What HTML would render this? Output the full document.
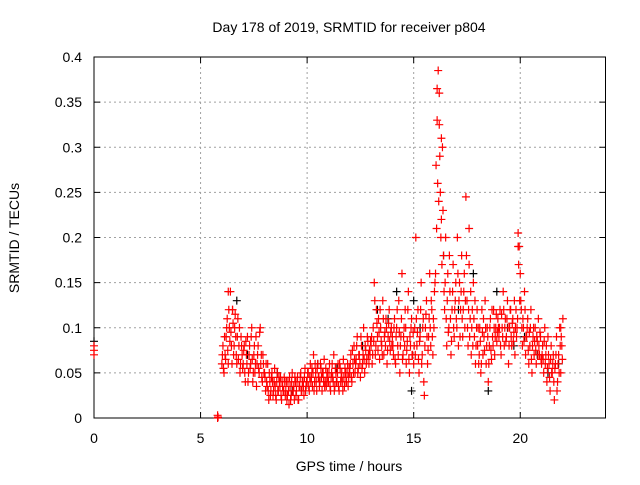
<!DOCTYPE html>
<html><head><meta charset="utf-8"><style>
body{margin:0;background:#fff}
svg text{font-family:"Liberation Sans",sans-serif;font-size:14px;fill:#000}
</style></head><body>
<svg width="640" height="480">
<g id="grid"></g>
<g id="axes"></g>
<g id="marks"></g>
<text x="349" y="32" text-anchor="middle">Day 178 of 2019, SRMTID for receiver p804</text>
<text x="349" y="471" text-anchor="middle">GPS time / hours</text>
<text x="0" y="0" text-anchor="middle" transform="translate(19,238) rotate(-90)">SRMTID / TECUs</text>
</svg>
<script>
const xTicks=[0,5,10,15,20];
const yTicks=[0,0.05,0.1,0.15,0.2,0.25,0.3,0.35,0.4];
const yTickLabels=["0","0.05","0.1","0.15","0.2","0.25","0.3","0.35","0.4"];
const redHours=[6,7,8,9,10,11,12,13,14,15,16,17,18,19,20,21];
const redValues=[
[0.06,0.08,0.05,0.07,0.09,0.11,0.06,0.1,0.14,0.08,0.12,0.07,0.1,0.09,0.06,0.11,0.08,0.05,0.09,0.07],
[0.06,0.08,0.04,0.07,0.09,0.05,0.08,0.06,0.1,0.04,0.07,0.05,0.09,0.06,0.08,0.05,0.1,0.07,0.04,0.06],
[0.05,0.03,0.04,0.06,0.02,0.04,0.03,0.05,0.025,0.04,0.035,0.02,0.05,0.03,0.04,0.045,0.02,0.035,0.03,0.04],
[0.03,0.02,0.04,0.015,0.035,0.025,0.05,0.03,0.02,0.04,0.03,0.045,0.02,0.035,0.05,0.03,0.04,0.025,0.055,0.035],
[0.04,0.05,0.03,0.06,0.045,0.035,0.07,0.04,0.05,0.03,0.06,0.045,0.04,0.055,0.03,0.05,0.065,0.04,0.035,0.05],
[0.04,0.06,0.03,0.05,0.045,0.07,0.035,0.05,0.04,0.06,0.03,0.055,0.045,0.04,0.065,0.035,0.05,0.04,0.06,0.045],
[0.05,0.07,0.04,0.06,0.08,0.05,0.065,0.09,0.055,0.07,0.045,0.08,0.06,0.1,0.05,0.075,0.065,0.085,0.06,0.07],
[0.08,0.06,0.1,0.15,0.07,0.12,0.09,0.11,0.065,0.1,0.08,0.13,0.07,0.095,0.11,0.06,0.09,0.12,0.075,0.1],
[0.09,0.07,0.11,0.06,0.1,0.08,0.13,0.05,0.09,0.16,0.07,0.1,0.12,0.06,0.085,0.14,0.05,0.08,0.11,0.07],
[0.06,0.1,0.2,0.08,0.12,0.05,0.09,0.15,0.07,0.11,0.025,0.1,0.13,0.06,0.09,0.16,0.08,0.12,0.07,0.1],
[0.15,0.28,0.33,0.385,0.36,0.25,0.22,0.3,0.18,0.12,0.2,0.08,0.16,0.1,0.14,0.07,0.12,0.17,0.09,0.13],
[0.11,0.2,0.08,0.15,0.12,0.18,0.09,0.14,0.1,0.245,0.13,0.08,0.17,0.11,0.07,0.12,0.15,0.09,0.06,0.1],
[0.08,0.06,0.1,0.05,0.12,0.07,0.09,0.13,0.06,0.1,0.04,0.08,0.11,0.065,0.09,0.12,0.07,0.1,0.085,0.11],
[0.09,0.12,0.07,0.1,0.14,0.08,0.11,0.09,0.13,0.06,0.1,0.12,0.08,0.11,0.095,0.07,0.12,0.1,0.205,0.19],
[0.16,0.12,0.08,0.1,0.14,0.07,0.09,0.11,0.06,0.08,0.12,0.05,0.09,0.07,0.1,0.06,0.085,0.11,0.07,0.09],
[0.06,0.08,0.05,0.1,0.07,0.04,0.09,0.06,0.03,0.08,0.05,0.07,0.02,0.06,0.09,0.04,0.07,0.1,0.05,0.08]];
const redValues2=[
[0.07,0.055,0.09,0.065,0.1,0.075,0.12,0.085,0.095,0.06,0.105,0.08,0.115,0.07,0.09,0.065,0.1,0.06,0.08,0.055],
[0.075,0.05,0.085,0.06,0.04,0.07,0.055,0.09,0.065,0.05,0.08,0.06,0.035,0.07,0.055,0.095,0.06,0.045,0.07,0.05],
[0.045,0.06,0.035,0.03,0.05,0.025,0.045,0.04,0.03,0.055,0.025,0.04,0.03,0.045,0.035,0.025,0.04,0.03,0.045,0.025],
[0.04,0.025,0.03,0.045,0.02,0.04,0.03,0.035,0.045,0.025,0.04,0.02,0.035,0.045,0.03,0.04,0.035,0.045,0.03,0.04],
[0.05,0.035,0.045,0.04,0.055,0.05,0.03,0.06,0.04,0.055,0.045,0.035,0.06,0.045,0.05,0.04,0.035,0.055,0.045,0.04],
[0.05,0.035,0.045,0.06,0.04,0.03,0.055,0.04,0.05,0.035,0.06,0.04,0.05,0.03,0.045,0.055,0.04,0.05,0.035,0.055],
[0.06,0.045,0.075,0.05,0.065,0.06,0.08,0.05,0.07,0.06,0.09,0.055,0.07,0.065,0.08,0.06,0.09,0.07,0.075,0.085],
[0.09,0.07,0.085,0.13,0.08,0.105,0.075,0.095,0.12,0.085,0.07,0.11,0.09,0.08,0.1,0.075,0.105,0.085,0.095,0.08],
[0.08,0.1,0.065,0.09,0.12,0.07,0.095,0.08,0.11,0.065,0.09,0.08,0.1,0.075,0.12,0.065,0.09,0.1,0.07,0.095],
[0.08,0.07,0.11,0.095,0.065,0.085,0.12,0.06,0.1,0.04,0.08,0.115,0.09,0.075,0.11,0.1,0.13,0.09,0.11,0.14],
[0.16,0.21,0.26,0.24,0.29,0.2,0.17,0.23,0.14,0.15,0.11,0.13,0.095,0.18,0.11,0.085,0.14,0.1,0.12,0.15],
[0.1,0.16,0.13,0.09,0.14,0.11,0.12,0.16,0.13,0.18,0.1,0.12,0.09,0.14,0.1,0.08,0.11,0.13,0.08,0.12],
[0.1,0.07,0.085,0.06,0.095,0.11,0.075,0.1,0.08,0.09,0.06,0.1,0.075,0.12,0.08,0.1,0.09,0.115,0.095,0.1],
[0.1,0.08,0.115,0.09,0.12,0.1,0.085,0.11,0.1,0.08,0.12,0.09,0.105,0.085,0.13,0.1,0.09,0.11,0.17,0.13],
[0.13,0.1,0.11,0.085,0.12,0.09,0.1,0.075,0.095,0.1,0.065,0.08,0.1,0.085,0.075,0.09,0.07,0.08,0.095,0.065],
[0.07,0.065,0.085,0.06,0.08,0.055,0.07,0.045,0.065,0.05,0.06,0.04,0.055,0.07,0.03,0.06,0.05,0.08,0.09,0.065]];
const extraTimes=[0.0,0.0,0.0,5.8,5.8,5.82,6.3,6.5,16.1,16.2,16.3,17.6,19.9,22.0,21.9];
const extraValues=[0.08,0.075,0.07,0.0,0.003,0.001,0.14,0.12,0.365,0.325,0.31,0.21,0.19,0.11,0.1];
const blackTimes=[0.0,6.7,7.2,8.6,9.3,10.5,11.4,12.6,13.3,14.2,14.9,15.3,16.4,17.1,17.8,18.5,18.9,19.4,20.2,20.8,21.3,21.8,15.0,13.8,19.7];
const blackValues=[0.085,0.13,0.07,0.05,0.03,0.06,0.055,0.08,0.12,0.14,0.03,0.1,0.18,0.12,0.16,0.03,0.14,0.1,0.09,0.07,0.05,0.06,0.13,0.11,0.08];

const X=v=>94+v*(511.5/24);
const Y=v=>418-v*(361/0.4);
const ns="http://www.w3.org/2000/svg";
const grid=document.getElementById('grid'),axes=document.getElementById('axes'),marks=document.getElementById('marks');
function mk(tag,attrs,parent){const e=document.createElementNS(ns,tag);for(const k in attrs)e.setAttribute(k,attrs[k]);parent.appendChild(e);return e;}
yTicks.forEach((t,i)=>{
  if(i>0&&i<yTicks.length-1){const g=mk('line',{x1:94,x2:605.5,y1:Y(t),y2:Y(t),stroke:'#a0a0a0','stroke-dasharray':'2,3'},grid);
  
  }
  mk('line',{x1:94,x2:100,y1:Y(t),y2:Y(t),stroke:'#000'},axes);
  mk('line',{x1:599.5,x2:605.5,y1:Y(t),y2:Y(t),stroke:'#000'},axes);
  const tx=mk('text',{x:82,y:Y(t)+5,'text-anchor':'end'},axes);tx.textContent=yTickLabels[i];
  
  
});
xTicks.forEach(t=>{
  if(t>0){const g=mk('line',{x1:X(t),x2:X(t),y1:57,y2:418,stroke:'#a0a0a0','stroke-dasharray':'2,3'},grid);
  
  }
  mk('line',{x1:X(t),x2:X(t),y1:418,y2:412,stroke:'#000'},axes);
  mk('line',{x1:X(t),x2:X(t),y1:57,y2:63,stroke:'#000'},axes);
  const tx=mk('text',{x:X(t),y:443,'text-anchor':'middle'},axes);tx.textContent=String(t);
  
  
});
const fr=mk('rect',{x:94,y:57,width:511.5,height:361,fill:'none',stroke:'#000'},axes);


function plus(x,y,c){const p=mk('path',{d:`M${X(x)-4},${Y(y)}h8M${X(x)},${Y(y)-4}v8`,stroke:c,'stroke-width':1.2,fill:'none'},marks);return p;}
blackTimes.forEach((t,i)=>{const p=plus(t,blackValues[i],'#000');
  
  });
redHours.forEach((h,j)=>{redValues[j].forEach((v,i)=>{const p=plus(h+i/20,v,'#f00');
  
  });});
redHours.forEach((h,j)=>{redValues2[j].forEach((v,i)=>{const p=plus(h+i/20+0.025,v,'#f00');
  
  });});
extraTimes.forEach((t,i)=>{const p=plus(t,extraValues[i],'#f00');
  
  });
</script>
</body></html>
